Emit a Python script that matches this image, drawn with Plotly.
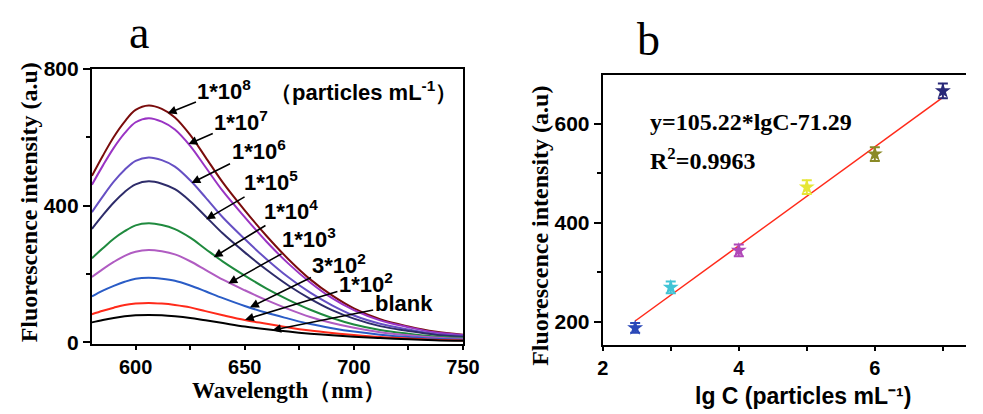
import plotly.graph_objects as go

# ---------------- Panel a data (fluorescence spectra) ----------------
wavelength = [580, 585, 590, 595, 600, 606, 612, 618, 625, 632, 640, 650,
              660, 670, 680, 690, 700, 712, 725, 737, 750]

i_1e8 = [487, 546, 601, 646, 680, 693, 683, 658, 607, 542, 467, 386, 311, 243, 184, 137, 99, 67, 46, 31, 22]
i_1e7 = [461, 517, 569, 612, 644, 656, 646, 623, 575, 513, 442, 366, 294, 230, 175, 129, 94, 64, 44, 29, 21]
i_1e6 = [381, 427, 470, 505, 531, 541, 533, 514, 474, 424, 365, 302, 243, 190, 145, 108, 78, 54, 37, 24, 18]
i_1e5 = [332, 372, 409, 440, 462, 471, 464, 448, 413, 369, 318, 263, 212, 166, 127, 94, 69, 47, 33, 22, 16]
i_1e4 = [246, 275, 303, 325, 342, 348, 343, 331, 306, 273, 236, 195, 157, 124, 95, 71, 52, 36, 25, 17, 12]
i_1e3 = [191, 214, 235, 253, 265, 270, 266, 257, 237, 212, 183, 152, 123, 97, 74, 56, 42, 29, 20, 14, 10]
i_3e2 = [134, 151, 165, 177, 186, 189, 186, 180, 166, 149, 129, 106, 86, 69, 53, 41, 31, 22, 15, 10, 7]
i_1e2 = [82, 92, 101, 109, 113, 115, 113, 109, 102, 91, 79, 65, 54, 43, 34, 27, 21, 15, 11, 7, 5]
i_blank = [58, 65, 71, 76, 79, 80, 79, 76, 71, 64, 56, 46, 38, 31, 25, 20, 16, 12, 9, 6, 4]

series_a = [i_1e8, i_1e7, i_1e6, i_1e5, i_1e4, i_1e3, i_3e2, i_1e2, i_blank]
names_a = ["1*10<sup>8</sup>", "1*10<sup>7</sup>", "1*10<sup>6</sup>", "1*10<sup>5</sup>",
           "1*10<sup>4</sup>", "1*10<sup>3</sup>", "3*10<sup>2</sup>", "1*10<sup>2</sup>", "blank"]
colors_a = ["#7a0c0c", "#9a34c4", "#6650c4", "#2e2c6a", "#1f8a3e",
            "#b05cc2", "#2a5cc6", "#ff2a1a", "#000000"]

# label centres and arrow tips (data coordinates of panel a)
label_wl = [640.7, 648.4, 656.3, 662.1, 671.1, 679.6, 693.4, 705.5, 722.8]
label_val = [737, 647, 564, 471, 387, 304, 230, 174, 112]
tip_wl = [614.7, 624.2, 625.6, 632.3, 635.8, 642.5, 652.4, 650.1, 662.6]
tip_val = [670, 580, 466, 360, 249, 172, 102, 66, 35]

# ---------------- Panel b data (calibration) ----------------
lgC = [2.477, 3.0, 4.0, 5.0, 6.0, 7.0]
intensity_b = [187, 269, 344, 472, 539, 667]
err_b = [10, 12, 12, 14, 14, 15]
colors_b = ["#2a48b8", "#40c4d6", "#b048b8", "#e6e636", "#8a8a26", "#282878"]
fit_x = [2.477, 7.0]
fit_y = [201, 654]

fig = go.Figure()

for vals, nm, col in zip(series_a, names_a, colors_a):
    fig.add_trace(go.Scatter(x=wavelength, y=vals, mode="lines", name=nm,
                             line=dict(color=col, width=2, shape="spline"),
                             xaxis="x", yaxis="y", showlegend=False, hoverinfo="skip"))

fig.add_trace(go.Scatter(x=fit_x, y=fit_y, mode="lines",
                         line=dict(color="#ff2a1a", width=1.5),
                         xaxis="x2", yaxis="y2", showlegend=False, hoverinfo="skip"))

for xv, yv, ev, col in zip(lgC, intensity_b, err_b, colors_b):
    fig.add_trace(go.Scatter(x=[xv], y=[yv], mode="markers",
                             marker=dict(symbol="star", size=12, color=col,
                                         line=dict(width=0)),
                             error_y=dict(type="data", array=[ev], color=col,
                                          thickness=2, width=5),
                             xaxis="x2", yaxis="y2", showlegend=False, hoverinfo="skip"))

W, H = 983, 414
ytickfont = dict(family="Liberation Sans", size=21, color="black", weight="bold")
xtickfont = dict(family="Liberation Sans", size=20, color="black", weight="bold")

axis_common = dict(showgrid=False, zeroline=False, showline=True, linecolor="black",
                   linewidth=2, ticks="outside", tickcolor="black", tickwidth=2)

fig.update_layout(
    width=W, height=H, margin=dict(l=0, r=0, t=0, b=0),
    paper_bgcolor="white", plot_bgcolor="white",
    xaxis=dict(domain=[88 / W, 468 / W], range=[580, 750], anchor="y",
               tickvals=[600, 650, 700, 750], ticklen=4, mirror=True, tickfont=xtickfont,
               minor=dict(tickvals=[625, 675, 725], ticklen=4, ticks="outside",
                          tickcolor="black", tickwidth=1.5),
               **axis_common),
    yaxis=dict(domain=[1 - 350 / H, 1 - 60 / H], range=[-6, 800], anchor="x",
               tickvals=[0, 400, 800], ticklen=7, mirror=True, tickfont=ytickfont,
               minor=dict(tickvals=[200, 600], ticklen=4, ticks="outside",
                          tickcolor="black", tickwidth=1.5),
               **axis_common),
    xaxis2=dict(domain=[611 / W, 1.0], range=[2, 7.34], anchor="y2",
                tickvals=[2, 4, 6], ticklen=4, mirror=True, tickfont=xtickfont,
                minor=dict(tickvals=[3, 5, 7], ticklen=4, ticks="outside",
                           tickcolor="black", tickwidth=1.5),
                **axis_common),
    yaxis2=dict(domain=[1 - 351 / H, 1 - 66 / H], range=[152, 700], anchor="x2",
                tickvals=[200, 400, 600], ticklen=7, mirror=False, tickfont=ytickfont,
                minor=dict(tickvals=[300, 500], ticklen=4, ticks="outside",
                           tickcolor="black", tickwidth=1.5),
                **axis_common),
)

ann = []
label_font = dict(family="Liberation Sans", size=22, color="black")
for t, lx, ly, tx, ty in zip(names_a, label_wl, label_val, tip_wl, tip_val):
    ann.append(dict(x=tx, y=ty, xref="x", yref="y", ax=lx, ay=ly, axref="x", ayref="y",
                    text="<b>" + t + "</b>", font=label_font, showarrow=True,
                    arrowhead=2, arrowsize=1.1, arrowwidth=1.6, arrowcolor="black"))

ann.append(dict(x=704.6, y=734, xref="x", yref="y",
                text="<b>（particles mL<sup>-1</sup>）</b>", showarrow=False,
                xanchor="center", yanchor="middle", font=label_font))

serif = "Liberation Serif"
ann += [
    dict(x=136 / W, y=1 - 22 / H, xref="paper", yref="paper", text="a", showarrow=False,
         font=dict(family=serif, size=46, color="black"), xanchor="center", yanchor="middle"),
    dict(x=658 / W, y=1 - 29 / H, xref="paper", yref="paper", text="b", showarrow=False,
         font=dict(family=serif, size=46, color="black"), xanchor="center", yanchor="middle"),
    dict(x=23 / W, y=1 - 200 / H, xref="paper", yref="paper",
         text="<b>Fluorescence intensity (a.u)</b>", textangle=-90, showarrow=False,
         font=dict(family=serif, size=24, color="black"), xanchor="center", yanchor="middle"),
    dict(x=290 / W, y=0, xref="paper", yref="paper",
         text="<b>Wavelength（nm）</b>", showarrow=False,
         font=dict(family=serif, size=23, color="black"), xanchor="center", yanchor="bottom"),
    dict(x=546 / W, y=1 - 225 / H, xref="paper", yref="paper",
         text="<b>Fluorescence intensity (a.u)</b>", textangle=-90, showarrow=False,
         font=dict(family=serif, size=24, color="black"), xanchor="center", yanchor="middle"),
    dict(x=816 / W, y=-6 / H, xref="paper", yref="paper",
         text="<b>lg C (particles mL⁻¹)</b>", showarrow=False,
         font=dict(family="Liberation Sans", size=23, color="black"),
         xanchor="center", yanchor="bottom"),
    dict(x=2.66, y=604, xref="x2", yref="y2", text="<b>y=105.22*lgC-71.29</b>",
         showarrow=False, xanchor="left", yanchor="middle",
         font=dict(family=serif, size=24, color="black")),
    dict(x=2.66, y=529, xref="x2", yref="y2", text="<b>R<sup>2</sup>=0.9963</b>",
         showarrow=False, xanchor="left", yanchor="middle",
         font=dict(family=serif, size=24, color="black")),
]
fig.update_layout(annotations=ann)

fig.write_html("out.html", config={"displayModeBar": False},
               post_script="document.body.style.margin='0';document.body.style.overflow='hidden';")
